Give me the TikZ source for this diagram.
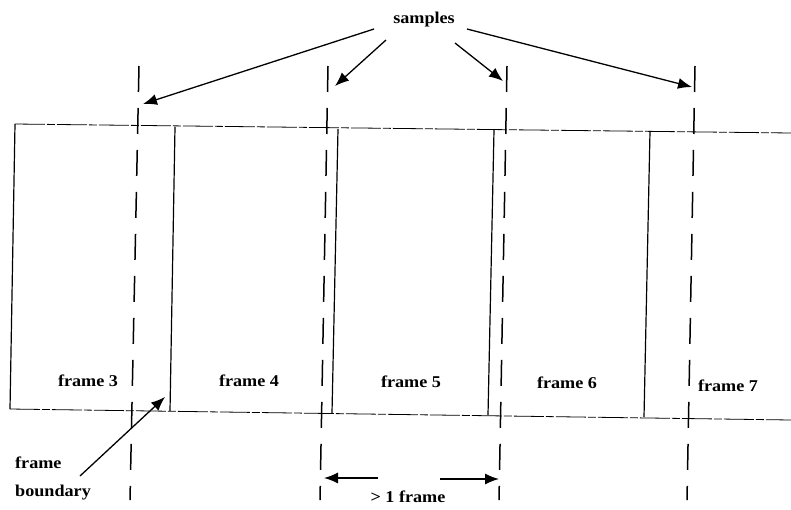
\documentclass[tikz,border=0pt]{standalone}
\usepackage{fontspec}
\setmainfont[FakeStretch=1.1]{Liberation Serif}
\usetikzlibrary{arrows.meta}
\begin{document}
\begin{tikzpicture}[x=1pt,y=-1pt,
  lbl/.style={font=\bfseries\fontsize{16.5}{18}\selectfont, inner sep=1pt},
  sampleline/.style={line width=1.5pt, dash pattern=on 26pt off 16pt},
  frameline/.style={line width=0.8pt, dash pattern=on 30pt off 2pt on 8pt off 2pt},
  bound/.style={line width=1.2pt},
  arr/.style={line width=1.3pt, -{Latex[length=14pt,width=11pt]}}]
\useasboundingbox (0,0) rectangle (791,509);
% frame box (slightly skewed, as scanned)
\coordinate (tl) at (15,124);
\coordinate (tr) at (791,133);
\coordinate (bl) at (10,409);
\coordinate (br) at (791,420);
\draw[frameline] (tl) -- (tr);
\draw[frameline] (bl) -- (br);
\draw[bound] (tl) -- (bl);
% frame boundaries
\coordinate (b1t) at (175,127); \coordinate (b1b) at (170,411);
\coordinate (b2t) at (338,129); \coordinate (b2b) at (332,413);
\coordinate (b3t) at (494,130); \coordinate (b3b) at (488,415);
\coordinate (b4t) at (650,131); \coordinate (b4b) at (644,417);
\draw[bound] (b1t) -- (b1b);
\draw[bound] (b2t) -- (b2b);
\draw[bound] (b3t) -- (b3b);
\draw[bound] (b4t) -- (b4b);
% sample lines
\coordinate (s1t) at (139,66); \coordinate (s1b) at (130,500);
\coordinate (s2t) at (328,66); \coordinate (s2b) at (320,500);
\coordinate (s3t) at (507,66); \coordinate (s3b) at (499,500);
\coordinate (s4t) at (695,66); \coordinate (s4b) at (687,500);
\draw[sampleline] (s1t) -- (s1b);
\draw[sampleline] (s2t) -- (s2b);
\draw[sampleline] (s3t) -- (s3b);
\draw[sampleline] (s4t) -- (s4b);
% samples and its arrows
\node[lbl] (samples) at (424,20) {samples};
\coordinate (a1) at (143,104);
\coordinate (a2) at (335,86);
\coordinate (a3) at (503,81);
\coordinate (a4) at (692,87);
\coordinate (st1) at (374,29);
\coordinate (st2) at (386,40);
\coordinate (st3) at (455,43);
\coordinate (st4) at (467,29);
\draw[arr] (st1) -- (a1);
\draw[arr] (st2) -- (a2);
\draw[arr] (st3) -- (a3);
\draw[arr] (st4) -- (a4);
% frame labels
\node[lbl] (f3) at (88,381) {frame 3};
\node[lbl] (f4) at (249,381) {frame 4};
\node[lbl] (f5) at (411,382) {frame 5};
\node[lbl] (f6) at (567,383) {frame 6};
\node[lbl] (f7) at (728,386) {frame 7};
% frame boundary
\node[lbl, anchor=west] (fb1) at (14,463) {frame};
\node[lbl, anchor=west] (fb2) at (14,493) {boundary};
\coordinate (fbtip) at (165,397);
\coordinate (fbstart) at (80,476);
\draw[arr] (fbstart) -- (fbtip);
% > 1 frame
\coordinate (gl) at (324,478);
\coordinate (gr) at (499,479);
\coordinate (gls) at (378,478);
\coordinate (grs) at (440,479);
\draw[arr] (gls) -- (gl);
\draw[arr] (grs) -- (gr);
\node[lbl] (gt) at (408,497) {> 1 frame};
\end{tikzpicture}
\end{document}
